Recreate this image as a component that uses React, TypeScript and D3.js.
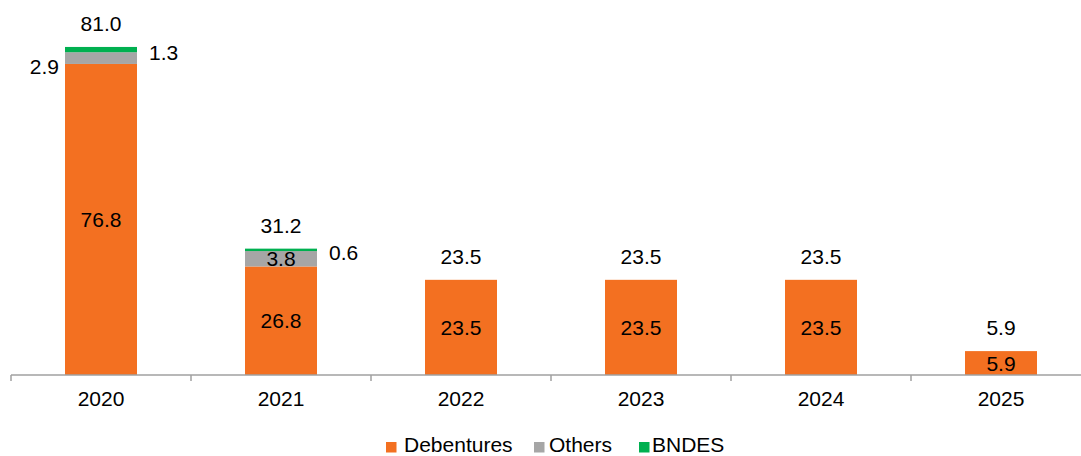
import React from "react";
import * as d3 from "d3";

// Funding schedule by year (R$ bn), stacked by source
const years = ["2020", "2021", "2022", "2023", "2024", "2025"];
const debentures = [76.8, 26.8, 23.5, 23.5, 23.5, 5.9];
const others = [2.9, 3.8, 0, 0, 0, 0];
const bndes = [1.3, 0.6, 0, 0, 0, 0];
const totals = [81.0, 31.2, 23.5, 23.5, 23.5, 5.9];
const seriesNames = ["Debentures", "Others", "BNDES"];

const COLORS = ["#F37021", "#A6A6A6", "#00B050"];
const FONT = "'Liberation Sans', Arial, sans-serif";

export default function App() {
  const width = 1081;
  const height = 456;
  const axisY = 375;

  const x = d3.scaleBand<string>().domain(years).range([11, 1091]).paddingInner(0).paddingOuter(0);
  const y = d3.scaleLinear().domain([0, 90]).range([axisY, axisY - 90 * 4.05]);
  const barW = x.bandwidth() * 0.4;

  const rows = years.map((yr, i) => ({
    year: yr,
    Debentures: debentures[i],
    Others: others[i],
    BNDES: bndes[i],
  }));
  const stack = d3.stack<any>().keys(seriesNames)(rows);

  const fmt = (v: number) => v.toFixed(1);
  const fs = 21;

  return (
    <svg
      width={width}
      height={height}
      style={{ position: "absolute", left: 0, top: 0, background: "#fff" }}
      fontFamily={FONT}
    >
      {stack.map((layer, li) =>
        layer.map((d, i) => {
          const h = y(d[0]) - y(d[1]);
          if (h <= 0) return null;
          const cx = (x(years[i]) as number) + x.bandwidth() / 2;
          return (
            <rect
              key={`${li}-${i}`}
              x={cx - barW / 2}
              y={y(d[1])}
              width={barW}
              height={h}
              fill={COLORS[li]}
            />
          );
        })
      )}

      {/* segment labels */}
      {stack.map((layer, li) =>
        layer.map((d, i) => {
          const v = d[1] - d[0];
          if (v <= 0) return null;
          const cx = (x(years[i]) as number) + x.bandwidth() / 2;
          const mid = (y(d[0]) + y(d[1])) / 2;
          const name = seriesNames[li];
          let tx = cx;
          let ty = mid + 7.5;
          let anchor: "start" | "middle" | "end" = "middle";
          if (name === "BNDES") {
            tx = cx + barW / 2 + 12;
            ty = mid + 10;
            anchor = "start";
          } else if (name === "Others" && v < 3) {
            tx = cx - barW / 2 - 6;
            ty = mid + 16;
            anchor = "end";
          }
          return (
            <text key={`l-${li}-${i}`} x={tx} y={ty} fontSize={fs} textAnchor={anchor} fill="#000">
              {fmt(v)}
            </text>
          );
        })
      )}

      {/* totals */}
      {years.map((yr, i) => (
        <text
          key={`t-${yr}`}
          x={(x(yr) as number) + x.bandwidth() / 2}
          y={y(totals[i]) - 16}
          fontSize={fs}
          textAnchor="middle"
          fill="#000"
        >
          {fmt(totals[i])}
        </text>
      ))}

      {/* x axis */}
      <line x1={11} x2={1091} y1={axisY} y2={axisY} stroke="#A0A0A0" strokeWidth={1.5} />
      {years.map((yr) => (
        <line
          key={`tick-${yr}`}
          x1={x(yr) as number}
          x2={x(yr) as number}
          y1={axisY}
          y2={axisY + 6}
          stroke="#A0A0A0"
          strokeWidth={1.5}
        />
      ))}
      {years.map((yr) => (
        <text
          key={`xl-${yr}`}
          x={(x(yr) as number) + x.bandwidth() / 2}
          y={406}
          fontSize={fs}
          textAnchor="middle"
          fill="#000"
        >
          {yr}
        </text>
      ))}

      {/* legend */}
      {[
        { name: seriesNames[0], sx: 386, tx: 404 },
        { name: seriesNames[1], sx: 534, tx: 549 },
        { name: seriesNames[2], sx: 639, tx: 652 },
      ].map((it, i) => (
        <g key={`lg-${it.name}`}>
          <rect x={it.sx} y={442} width={10.5} height={10.5} fill={COLORS[i]} />
          <text x={it.tx} y={451.5} fontSize={fs} fill="#000">
            {it.name}
          </text>
        </g>
      ))}
    </svg>
  );
}
